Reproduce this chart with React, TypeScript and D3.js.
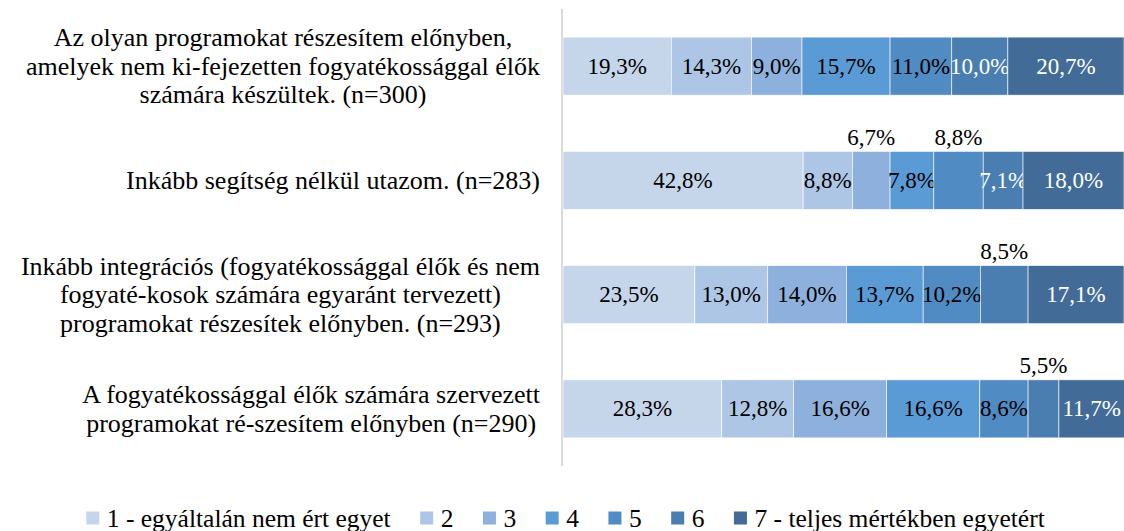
import React, { useLayoutEffect, useRef, useState } from "react";
import * as d3 from "d3";

const categories: string[][] = [
  ["Az olyan programokat részesítem előnyben,", "amelyek nem ki-fejezetten fogyatékossággal élők", "számára készültek. (n=300)"],
  ["Inkább segítség nélkül utazom. (n=283)"],
  ["Inkább integrációs (fogyatékossággal élők és nem", "fogyaté-kosok számára egyaránt tervezett)", "programokat részesítek előnyben. (n=293)"],
  ["A fogyatékossággal élők számára szervezett", "programokat ré-szesítem előnyben (n=290)"],
];

const seriesNames = ["1 - egyáltalán nem ért egyet", "2", "3", "4", "5", "6", "7 - teljes mértékben egyetért"];

const row1 = [19.3, 14.3, 9.0, 15.7, 11.0, 10.0, 20.7];
const row2 = [42.8, 8.8, 6.7, 7.8, 8.8, 7.1, 18.0];
const row3 = [23.5, 13.0, 14.0, 13.7, 10.2, 8.5, 17.1];
const row4 = [28.3, 12.8, 16.6, 16.6, 8.6, 5.5, 11.7];
const values = [row1, row2, row3, row4];

// labels drawn above the bar: [row, series]
const aboveLabels: [number, number][] = [[1, 2], [1, 4], [2, 5], [3, 5]];

const colors = ["#C5D6EB", "#ADC6E5", "#8DB1DC", "#5B9BD5", "#508BC3", "#4A7EB0", "#426C97"];

const W = 1124;
const H = 531;
const FONT = "Liberation Serif";

const x = d3.scaleLinear().domain([0, 100]).range([563, 1124]);
const y = d3
  .scaleBand<number>()
  .domain(d3.range(categories.length))
  .range([9, 466])
  .paddingInner(0.492)
  .paddingOuter(0.246);

const fmt = (v: number) => v.toFixed(1).replace(".", ",") + "%";

export default function App() {
  const catRefs = useRef<(SVGTextElement | null)[][]>(categories.map(() => []));
  const legRefs = useRef<(SVGTextElement | null)[]>([]);
  const [catW, setCatW] = useState<number[] | null>(null);
  const [legW, setLegW] = useState<number[] | null>(null);

  useLayoutEffect(() => {
    document.body.style.margin = "0";
    setCatW(
      catRefs.current.map((arr) => d3.max(arr, (t) => (t ? t.getComputedTextLength() : 0)) || 0)
    );
    setLegW(legRefs.current.map((t) => (t ? t.getComputedTextLength() : 0)));
  }, []);

  const lh = 28.5;
  const sq = 13;
  const gapText = 7.5;
  const gapItem = 29.5;
  const itemW = seriesNames.map((_, i) => sq + gapText + (legW ? legW[i] : 0));
  const total = d3.sum(itemW) + gapItem * (itemW.length - 1);
  const legX: number[] = [];
  let cx = 565.5 - total / 2;
  itemW.forEach((w) => {
    legX.push(cx);
    cx += w + gapItem;
  });

  return (
    <svg width={W} height={H} style={{ display: "block", background: "#ffffff" }}>
      <line x1={562} x2={562} y1={y.range()[0]} y2={y.range()[1]} stroke="#d9d9d9" strokeWidth={2} />
      {values.map((row, ri) => {
        const starts = d3.cumsum([0, ...row]);
        return (
          <g key={ri}>
            {row.map((v, si) => {
              const x0 = x(starts[si]);
              const x1 = x(starts[si] + v);
              const above = aboveLabels.some(([r, s]) => r === ri && s === si);
              return (
                <g key={si}>
                  <rect
                    x={x0}
                    y={y(ri)}
                    width={Math.max(0, x1 - x0)}
                    height={y.bandwidth()}
                    fill={colors[si]}
                    stroke="#ffffff"
                    strokeWidth={0.6}
                  />
                  <text
                    x={(x0 + x1) / 2}
                    y={above ? y(ri)! - 14 : y(ri)! + y.bandwidth() / 2}
                    textAnchor="middle"
                    dominantBaseline="central"
                    fill={!above && si >= 5 ? "#ffffff" : "#000000"}
                    style={{ fontFamily: FONT, fontSize: 23 }}
                  >
                    {fmt(v)}
                  </text>
                </g>
              );
            })}
          </g>
        );
      })}
      {categories.map((lines, ri) => {
        const cy = y(ri)! + y.bandwidth() / 2;
        const mx = catW ? 540 - catW[ri] / 2 : 300;
        return (
          <g key={"c" + ri}>
            {lines.map((l, li) => (
              <text
                key={li}
                ref={(el) => {
                  catRefs.current[ri][li] = el;
                }}
                x={mx}
                y={cy + (li - (lines.length - 1) / 2) * lh}
                textAnchor="middle"
                dominantBaseline="central"
                fill="#000"
                style={{ fontFamily: FONT, fontSize: 26 }}
              >
                {l}
              </text>
            ))}
          </g>
        );
      })}
      {seriesNames.map((name, i) => (
        <g key={"l" + i} transform={`translate(${legX[i]},0)`}>
          <rect x={0} y={518 - sq / 2} width={sq} height={sq} fill={colors[i]} />
          <text
            ref={(el) => {
              legRefs.current[i] = el;
            }}
            x={sq + gapText}
            y={518}
            dominantBaseline="central"
            fill="#000"
            style={{ fontFamily: FONT, fontSize: 25.5 }}
          >
            {name}
          </text>
        </g>
      ))}
    </svg>
  );
}
